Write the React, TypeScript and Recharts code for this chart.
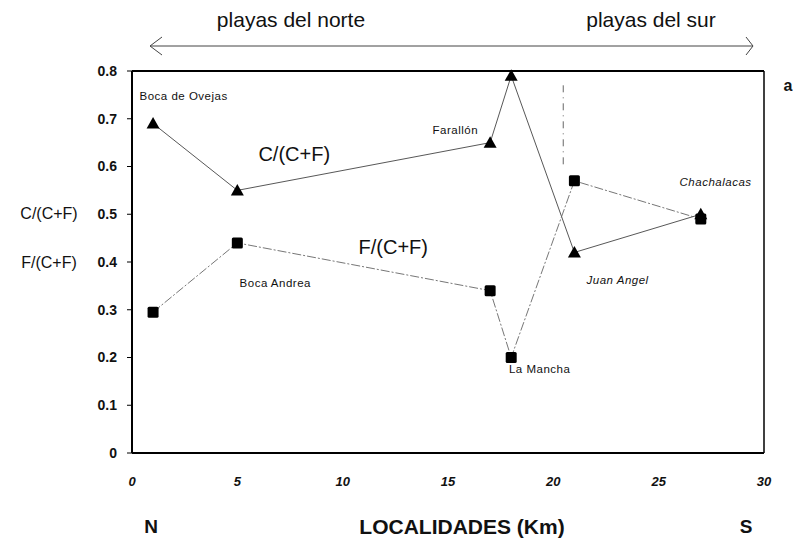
import React from 'react';
import { ScatterChart, Scatter, XAxis, YAxis, ReferenceLine, ReferenceDot } from 'recharts';

// distance along the coast (km) and the two ratios per locality
const kmC = [1, 5, 17, 18, 21, 27];
const cRatio = [0.69, 0.55, 0.65, 0.79, 0.42, 0.5];
const kmF = [1, 5, 17, 18, 21, 27];
const fRatio = [0.295, 0.44, 0.34, 0.2, 0.57, 0.49];

const xTicks = [0, 5, 10, 15, 20, 25, 30];
const yTicks = [0, 0.1, 0.2, 0.3, 0.4, 0.5, 0.6, 0.7, 0.8];

// site names placed near their points
const siteLabels = [
  { name: 'Boca de Ovejas', x: 2.45, y: 0.748, italic: false },
  { name: 'Boca Andrea', x: 6.8, y: 0.357, italic: false },
  { name: 'Farallón', x: 15.35, y: 0.676, italic: false },
  { name: 'La Mancha', x: 19.35, y: 0.176, italic: false },
  { name: 'Juan Angel', x: 23.05, y: 0.363, italic: true },
  { name: 'Chachalacas', x: 27.7, y: 0.567, italic: true },
];

const seriesLabels = [
  { name: 'C/(C+F)', x: 7.7, y: 0.626 },
  { name: 'F/(C+F)', x: 12.4, y: 0.431 },
];

const cData = kmC.map((km, i) => ({ km, v: cRatio[i] }));
const fData = kmF.map((km, i) => ({ km, v: fRatio[i] }));

const font = 'Arial, "Liberation Sans", sans-serif';

const textStyle: React.CSSProperties = {
  position: 'absolute',
  fontFamily: font,
  color: '#111',
  whiteSpace: 'nowrap',
  lineHeight: 1,
  transform: 'translate(-50%, -50%)',
};

const Triangle = (props: any) => {
  const { cx, cy } = props;
  if (cx == null || cy == null) return null;
  return <path d={`M${cx},${cy - 6.5}L${cx + 6.5},${cy + 5}L${cx - 6.5},${cy + 5}Z`} fill="#000" />;
};

const Square = (props: any) => {
  const { cx, cy } = props;
  if (cx == null || cy == null) return null;
  return <rect x={cx - 5.5} y={cy - 5.5} width={11} height={11} rx={1.5} fill="#000" />;
};

const App = () => {
  return (
    <div style={{ position: 'absolute', left: 0, top: 0, width: 793, height: 541, background: '#fff' }}>
      <ScatterChart width={793} height={541} margin={{ top: 71, right: 29, bottom: 58, left: 0 }}>
        <XAxis
          type="number"
          dataKey="km"
          domain={[0, 30]}
          ticks={xTicks}
          tickLine={false}
          tickMargin={18}
          height={30}
          axisLine={{ stroke: '#000', strokeWidth: 2 }}
          tick={{ fill: '#111', fontSize: 13, fontWeight: 'bold', fontStyle: 'italic', fontFamily: font }}
        />
        <YAxis
          type="number"
          dataKey="v"
          domain={[0, 0.8]}
          ticks={yTicks}
          width={132}
          tickSize={5}
          tickMargin={10}
          axisLine={{ stroke: '#000', strokeWidth: 2 }}
          tickLine={{ stroke: '#000' }}
          tick={{ fill: '#111', fontSize: 14, fontWeight: 'bold', fontFamily: font }}
        />
        <ReferenceLine y={0.8} stroke="#000" strokeWidth={2} />
        <ReferenceLine x={30} stroke="#000" strokeWidth={1.5} />
        <ReferenceLine
          segment={[{ x: 20.47, y: 0.77 }, { x: 20.47, y: 0.595 }]}
          stroke="#555"
          strokeWidth={0.9}
          strokeDasharray="7 5 1 5"
        />
        <Scatter
          data={cData}
          shape={Triangle}
          fill="#000"
          line={{ stroke: '#444', strokeWidth: 0.9 }}
          isAnimationActive={false}
        />
        <Scatter
          data={fData}
          shape={Square}
          fill="#000"
          line={{ stroke: '#666', strokeWidth: 0.9, strokeDasharray: '9 2 2 2' }}
          isAnimationActive={false}
        />
        {siteLabels.map((s) => (
          <ReferenceDot
            key={s.name}
            x={s.x}
            y={s.y}
            r={0}
            label={{
              value: s.name,
              position: 'center',
              fill: '#111',
              fontSize: 11.5,
              letterSpacing: 0.5,
              fontStyle: s.italic ? 'italic' : 'normal',
              fontFamily: font,
            }}
          />
        ))}
        {seriesLabels.map((s) => (
          <ReferenceDot
            key={s.name}
            x={s.x}
            y={s.y}
            r={0}
            label={{ value: s.name, position: 'center', fill: '#111', fontSize: 20, fontFamily: font }}
          />
        ))}
      </ScatterChart>

      <svg width={793} height={541} style={{ position: 'absolute', left: 0, top: 0, pointerEvents: 'none' }}>
        <line x1={150} y1={46} x2={753} y2={46} stroke="#444" strokeWidth={1} />
        <polyline points="162,37 150,46 162,55" fill="none" stroke="#444" strokeWidth={1} />
        <polyline points="746,37 753,46 746,55" fill="none" stroke="#444" strokeWidth={1} />
      </svg>

      <div style={{ ...textStyle, left: 291, top: 19, fontSize: 21 }}>playas del norte</div>
      <div style={{ ...textStyle, left: 651, top: 19, fontSize: 21 }}>playas del sur</div>
      <div style={{ ...textStyle, left: 788, top: 86, fontSize: 16, fontWeight: 'bold' }}>a</div>
      <div style={{ ...textStyle, left: 49, top: 214, fontSize: 16 }}>C/(C+F)</div>
      <div style={{ ...textStyle, left: 49, top: 263, fontSize: 16 }}>F/(C+F)</div>
      <div style={{ ...textStyle, left: 151, top: 526, fontSize: 19, fontWeight: 'bold' }}>N</div>
      <div style={{ ...textStyle, left: 462, top: 526, fontSize: 21, fontWeight: 'bold' }}>LOCALIDADES (Km)</div>
      <div style={{ ...textStyle, left: 746, top: 526, fontSize: 19, fontWeight: 'bold' }}>S</div>
    </div>
  );
};

export default App;
